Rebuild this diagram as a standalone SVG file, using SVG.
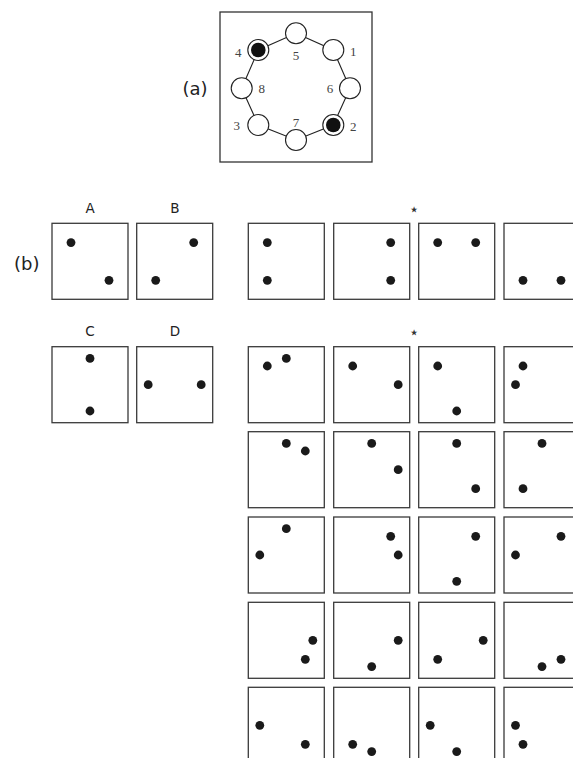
<svg xmlns="http://www.w3.org/2000/svg" width="573" height="758" viewBox="0 0 573 758">
<style>
.bg{fill:#ffffff}
.frame{fill:#ffffff;stroke:#333333;stroke-width:1.3}
.box{fill:#ffffff;stroke:#3a3a3a;stroke-width:1.3}
.node{fill:#ffffff;stroke:#222222;stroke-width:1.1}
.core{fill:#111111}
.dot{fill:#1a1a1a}
.edge{fill:none;stroke:#222222;stroke-width:1.1}
.num{font-family:"Liberation Serif",serif;font-size:13px;fill:#444444;text-anchor:middle}
.tag{font-family:"DejaVu Sans",sans-serif;font-size:18px;fill:#222222;text-anchor:middle}
.lbl{font-family:"DejaVu Sans",sans-serif;font-size:13.5px;fill:#222222;text-anchor:middle}
.star{font-family:"DejaVu Sans",sans-serif;font-size:17px;fill:#333333;text-anchor:middle}
</style>
<rect class="bg" x="0" y="0" width="573" height="758"/>

<!-- panel (a) -->
<text class="tag" x="195" y="95">(a)</text>
<rect class="frame" x="220" y="12" width="152" height="150"/>
<g id="connectors">
<polygon class="edge" points="296,33.3 333.3,50 350,88.3 333.3,125 296,140 258.3,125 241.7,88.3 258.3,50"/>
</g>
<g id="n5"><circle class="node" cx="296" cy="33.3" r="10.5"/><text class="num" x="296" y="60">5</text></g>
<g id="n1"><circle class="node" cx="333.3" cy="50" r="10.5"/><text class="num" x="353.3" y="56">1</text></g>
<g id="n6"><circle class="node" cx="350" cy="88.3" r="10.5"/><text class="num" x="330" y="93">6</text></g>
<g id="n2"><circle class="node" cx="333.3" cy="125" r="10.5"/><circle class="core" cx="333.3" cy="125" r="7.3"/><text class="num" x="353.3" y="130.5">2</text></g>
<g id="n7"><circle class="node" cx="296" cy="140" r="10.5"/><text class="num" x="296" y="126.5">7</text></g>
<g id="n3"><circle class="node" cx="258.3" cy="125" r="10.5"/><text class="num" x="236.7" y="130">3</text></g>
<g id="n8"><circle class="node" cx="241.7" cy="88.3" r="10.5"/><text class="num" x="261.7" y="93">8</text></g>
<g id="n4"><circle class="node" cx="258.3" cy="50" r="10.5"/><circle class="core" cx="258.3" cy="50" r="7.3"/><text class="num" x="238.3" y="56.5">4</text></g>

<!-- panel (b) -->
<text class="tag" x="26.7" y="270">(b)</text>
<text class="lbl" x="90" y="213.3">A</text>
<text class="lbl" x="175" y="213.3">B</text>
<text class="lbl" x="90" y="336">C</text>
<text class="lbl" x="175" y="336">D</text>
<text class="star" x="414" y="215">⋆</text>
<text class="star" x="414" y="338">⋆</text>

<g id="boxA" transform="translate(52,223.3)"><rect class="box" width="76" height="76"/><circle class="dot" cx="19" cy="19.3" r="4.4"/><circle class="dot" cx="57" cy="57" r="4.4"/></g>
<g id="boxB" transform="translate(136.7,223.3)"><rect class="box" width="76" height="76"/><circle class="dot" cx="57" cy="19.3" r="4.4"/><circle class="dot" cx="19" cy="57" r="4.4"/></g>
<g id="boxC" transform="translate(52,346.7)"><rect class="box" width="76" height="76"/><circle class="dot" cx="38" cy="11.7" r="4.4"/><circle class="dot" cx="38" cy="64.3" r="4.4"/></g>
<g id="boxD" transform="translate(136.7,346.7)"><rect class="box" width="76" height="76"/><circle class="dot" cx="11.5" cy="38" r="4.4"/><circle class="dot" cx="64.5" cy="38" r="4.4"/></g>

<g id="r1c1" transform="translate(248.3,223.3)"><rect class="box" width="76" height="76"/><circle class="dot" cx="19" cy="19.3" r="4.4"/><circle class="dot" cx="19" cy="57" r="4.4"/></g>
<g id="r1c2" transform="translate(333.7,223.3)"><rect class="box" width="76" height="76"/><circle class="dot" cx="57" cy="19.3" r="4.4"/><circle class="dot" cx="57" cy="57" r="4.4"/></g>
<g id="r1c3" transform="translate(418.7,223.3)"><rect class="box" width="76" height="76"/><circle class="dot" cx="19" cy="19.3" r="4.4"/><circle class="dot" cx="57" cy="19.3" r="4.4"/></g>
<g id="r1c4" transform="translate(504,223.3)"><rect class="box" width="76" height="76"/><circle class="dot" cx="19" cy="57" r="4.4"/><circle class="dot" cx="57" cy="57" r="4.4"/></g>

<g id="r2c1" transform="translate(248.3,346.7)"><rect class="box" width="76" height="76"/><circle class="dot" cx="19" cy="19.3" r="4.4"/><circle class="dot" cx="38" cy="11.7" r="4.4"/></g>
<g id="r2c2" transform="translate(333.7,346.7)"><rect class="box" width="76" height="76"/><circle class="dot" cx="19" cy="19.3" r="4.4"/><circle class="dot" cx="64.5" cy="38" r="4.4"/></g>
<g id="r2c3" transform="translate(418.7,346.7)"><rect class="box" width="76" height="76"/><circle class="dot" cx="19" cy="19.3" r="4.4"/><circle class="dot" cx="38" cy="64.3" r="4.4"/></g>
<g id="r2c4" transform="translate(504,346.7)"><rect class="box" width="76" height="76"/><circle class="dot" cx="19" cy="19.3" r="4.4"/><circle class="dot" cx="11.5" cy="38" r="4.4"/></g>

<g id="r3c1" transform="translate(248.3,431.7)"><rect class="box" width="76" height="76"/><circle class="dot" cx="38" cy="11.7" r="4.4"/><circle class="dot" cx="57" cy="19.3" r="4.4"/></g>
<g id="r3c2" transform="translate(333.7,431.7)"><rect class="box" width="76" height="76"/><circle class="dot" cx="38" cy="11.7" r="4.4"/><circle class="dot" cx="64.5" cy="38" r="4.4"/></g>
<g id="r3c3" transform="translate(418.7,431.7)"><rect class="box" width="76" height="76"/><circle class="dot" cx="38" cy="11.7" r="4.4"/><circle class="dot" cx="57" cy="57" r="4.4"/></g>
<g id="r3c4" transform="translate(504,431.7)"><rect class="box" width="76" height="76"/><circle class="dot" cx="38" cy="11.7" r="4.4"/><circle class="dot" cx="19" cy="57" r="4.4"/></g>

<g id="r4c1" transform="translate(248.3,517)"><rect class="box" width="76" height="76"/><circle class="dot" cx="38" cy="11.7" r="4.4"/><circle class="dot" cx="11.5" cy="38" r="4.4"/></g>
<g id="r4c2" transform="translate(333.7,517)"><rect class="box" width="76" height="76"/><circle class="dot" cx="57" cy="19.3" r="4.4"/><circle class="dot" cx="64.5" cy="38" r="4.4"/></g>
<g id="r4c3" transform="translate(418.7,517)"><rect class="box" width="76" height="76"/><circle class="dot" cx="57" cy="19.3" r="4.4"/><circle class="dot" cx="38" cy="64.3" r="4.4"/></g>
<g id="r4c4" transform="translate(504,517)"><rect class="box" width="76" height="76"/><circle class="dot" cx="57" cy="19.3" r="4.4"/><circle class="dot" cx="11.5" cy="38" r="4.4"/></g>

<g id="r5c1" transform="translate(248.3,602.3)"><rect class="box" width="76" height="76"/><circle class="dot" cx="64.5" cy="38" r="4.4"/><circle class="dot" cx="57" cy="57" r="4.4"/></g>
<g id="r5c2" transform="translate(333.7,602.3)"><rect class="box" width="76" height="76"/><circle class="dot" cx="64.5" cy="38" r="4.4"/><circle class="dot" cx="38" cy="64.3" r="4.4"/></g>
<g id="r5c3" transform="translate(418.7,602.3)"><rect class="box" width="76" height="76"/><circle class="dot" cx="64.5" cy="38" r="4.4"/><circle class="dot" cx="19" cy="57" r="4.4"/></g>
<g id="r5c4" transform="translate(504,602.3)"><rect class="box" width="76" height="76"/><circle class="dot" cx="57" cy="57" r="4.4"/><circle class="dot" cx="38" cy="64.3" r="4.4"/></g>

<g id="r6c1" transform="translate(248.3,687.3)"><rect class="box" width="76" height="76"/><circle class="dot" cx="11.5" cy="38" r="4.4"/><circle class="dot" cx="57" cy="57" r="4.4"/></g>
<g id="r6c2" transform="translate(333.7,687.3)"><rect class="box" width="76" height="76"/><circle class="dot" cx="19" cy="57" r="4.4"/><circle class="dot" cx="38" cy="64.3" r="4.4"/></g>
<g id="r6c3" transform="translate(418.7,687.3)"><rect class="box" width="76" height="76"/><circle class="dot" cx="11.5" cy="38" r="4.4"/><circle class="dot" cx="38" cy="64.3" r="4.4"/></g>
<g id="r6c4" transform="translate(504,687.3)"><rect class="box" width="76" height="76"/><circle class="dot" cx="11.5" cy="38" r="4.4"/><circle class="dot" cx="19" cy="57" r="4.4"/></g>
</svg>
